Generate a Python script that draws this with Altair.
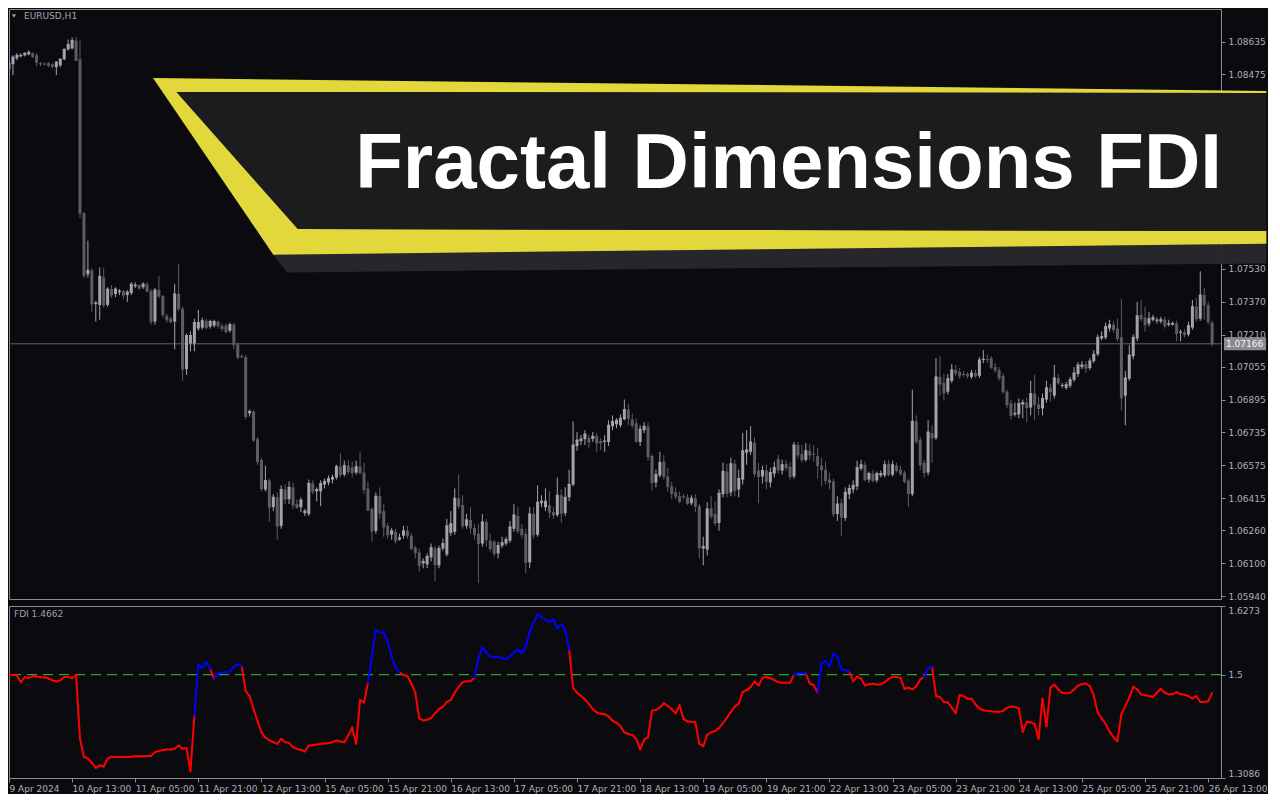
import altair as alt
import pandas as pd

# ---------------- DATA (EURUSD H1, prices in points = 1e-5) ----------------
open_pts = [
    108501, 108525, 108554, 108563, 108568, 108573, 108578, 108568, 108530, 108527,
    108530, 108525, 108511, 108520, 108549, 108597, 108602, 108640, 108549, 107801,
    107504, 107523, 107360, 107355, 107489, 107355, 107432, 107408, 107417, 107422,
    107403, 107413, 107446, 107451, 107441, 107456, 107422, 107274, 107427, 107398,
    107302, 107288, 107274, 107408, 107336, 107043, 107168, 107168, 107240, 107245,
    107278, 107250, 107254, 107274, 107254, 107254, 107230, 107259, 107163, 107106,
    107101, 106828, 106837, 106703, 106602, 106458, 106502, 106372, 106420, 106281,
    106458, 106411, 106468, 106387, 106372, 106343, 106339, 106487, 106449, 106449,
    106482, 106492, 106506, 106516, 106569, 106530, 106574, 106564, 106540, 106569,
    106540, 106463, 106363, 106257, 106425, 106353, 106281, 106238, 106252, 106214,
    106233, 106257, 106233, 106175, 106152, 106099, 106094, 106128, 106171, 106089,
    106171, 106142, 106247, 106252, 106415, 106382, 106281, 106310, 106271, 106243,
    106195, 106300, 106209, 106204, 106147, 106185, 106195, 106209, 106267, 106329,
    106267, 106243, 106104, 106339, 106238, 106391, 106372, 106382, 106348, 106334,
    106430, 106343, 106420, 106482, 106669, 106693, 106703, 106708, 106703, 106717,
    106693, 106689, 106689, 106765, 106775, 106770, 106799, 106847, 106799, 106780,
    106689, 106746, 106765, 106621, 106492, 106526, 106593, 106521, 106473, 106444,
    106425, 106425, 106420, 106391, 106415, 106377, 106171, 106166, 106367, 106339,
    106295, 106435, 106545, 106444, 106583, 106458, 106506, 106636, 106641, 106684,
    106550, 106521, 106550, 106492, 106535, 106607, 106550, 106583, 106569, 106521,
    106674, 106631, 106602, 106646, 106631, 106621, 106574, 106554, 106506, 106497,
    106339, 106391, 106319, 106435, 106458, 106473, 106559, 106578, 106506, 106535,
    106502, 106526, 106526, 106583, 106530, 106574, 106554, 106540, 106502, 106435,
    106789, 106698, 106588, 106540, 106732, 106708, 107005, 106976, 106933, 106986,
    107039, 107029, 107019, 107019, 107005, 107024, 107010, 107087, 107091, 107096,
    107053, 107039, 107010, 106933, 106876, 106823, 106823, 106871, 106880, 106856,
    106924, 106871, 106852, 106895, 106952, 106914, 107000, 106962, 106952, 106962,
    106991, 107019, 107053, 107067, 107048, 107082, 107115, 107192, 107197, 107240,
    107259, 107240, 107197, 106914, 106996, 107106, 107192, 107307, 107293, 107264,
    107283, 107278, 107274, 107283, 107259, 107259, 107264, 107221, 107221, 107211,
    107245, 107346, 107288, 107403, 107355, 107269,
]
high_pts = [
    108535, 108568, 108578, 108578, 108583, 108592, 108583, 108578, 108535, 108535,
    108535, 108530, 108540, 108554, 108602, 108645, 108655, 108659, 108640, 107806,
    107667, 107532, 107374, 107537, 107537, 107441, 107451, 107441, 107432, 107427,
    107427, 107465, 107465, 107456, 107465, 107465, 107432, 107437, 107494, 107403,
    107312, 107298, 107456, 107556, 107346, 107216, 107226, 107288, 107331, 107293,
    107288, 107283, 107283, 107278, 107264, 107264, 107269, 107269, 107173, 107115,
    107111, 106847, 106842, 106713, 106612, 106574, 106511, 106435, 106444, 106478,
    106482, 106497, 106492, 106411, 106420, 106363, 106506, 106502, 106468, 106502,
    106511, 106526, 106530, 106578, 106636, 106598, 106602, 106593, 106598, 106641,
    106588, 106497, 106372, 106444, 106468, 106387, 106295, 106271, 106267, 106243,
    106281, 106281, 106247, 106185, 106171, 106123, 106147, 106195, 106185, 106185,
    106219, 106315, 106353, 106463, 106530, 106430, 106339, 106372, 106291, 106291,
    106339, 106315, 106243, 106214, 106204, 106228, 106228, 106305, 106387, 106372,
    106291, 106267, 106372, 106372, 106478, 106430, 106463, 106449, 106372, 106516,
    106458, 106468, 106554, 106789, 106737, 106722, 106746, 106722, 106737, 106732,
    106708, 106722, 106794, 106818, 106804, 106823, 106895, 106876, 106828, 106804,
    106770, 106785, 106785, 106631, 106554, 106641, 106626, 106564, 106497, 106468,
    106449, 106435, 106435, 106430, 106435, 106387, 106228, 106396, 106425, 106401,
    106458, 106588, 106583, 106612, 106602, 106554, 106732, 106746, 106765, 106713,
    106588, 106574, 106578, 106564, 106593, 106626, 106602, 106602, 106593, 106689,
    106689, 106674, 106684, 106679, 106674, 106660, 106612, 106593, 106540, 106511,
    106425, 106411, 106468, 106482, 106502, 106598, 106602, 106593, 106545, 106554,
    106545, 106550, 106598, 106602, 106598, 106588, 106574, 106550, 106511, 106943,
    106818, 106713, 106602, 106794, 106770, 107096, 107106, 107019, 107019, 107067,
    107063, 107048, 107034, 107029, 107039, 107039, 107101, 107135, 107115, 107106,
    107072, 107053, 107024, 106943, 106895, 106880, 106900, 106895, 106904, 106986,
    107015, 106909, 106924, 106986, 106971, 107063, 107019, 106976, 106981, 107005,
    107053, 107077, 107082, 107082, 107096, 107135, 107211, 107226, 107269, 107283,
    107274, 107288, 107384, 107034, 107159, 107211, 107370, 107379, 107346, 107321,
    107307, 107293, 107298, 107298, 107283, 107274, 107278, 107235, 107235, 107274,
    107379, 107389, 107518, 107437, 107370, 107278,
]
low_pts = [
    108487, 108472, 108544, 108559, 108563, 108568, 108554, 108515, 108515, 108520,
    108511, 108506, 108472, 108511, 108544, 108592, 108597, 108540, 107777, 107485,
    107489, 107321, 107274, 107283, 107341, 107346, 107389, 107393, 107403, 107384,
    107370, 107403, 107437, 107427, 107432, 107417, 107259, 107259, 107389, 107293,
    107269, 107264, 107139, 107326, 106986, 107015, 107130, 107130, 107230, 107235,
    107235, 107240, 107245, 107240, 107226, 107216, 107221, 107139, 107091, 107096,
    106799, 106813, 106689, 106578, 106449, 106449, 106300, 106353, 106214, 106267,
    106387, 106387, 106363, 106363, 106348, 106329, 106329, 106435, 106401, 106377,
    106463, 106478, 106487, 106506, 106516, 106521, 106530, 106516, 106530, 106530,
    106435, 106353, 106204, 106243, 106315, 106228, 106219, 106214, 106195, 106209,
    106219, 106219, 106161, 106123, 106060, 106075, 106075, 106108, 106012, 106075,
    106161, 106132, 106233, 106238, 106363, 106267, 106267, 106243, 106214, 106003,
    106180, 106180, 106156, 106132, 106123, 106175, 106185, 106199, 106252, 106243,
    106219, 106051, 106075, 106219, 106228, 106372, 106353, 106319, 106315, 106324,
    106295, 106329, 106401, 106473, 106646, 106674, 106674, 106660, 106689, 106641,
    106650, 106641, 106669, 106746, 106756, 106760, 106794, 106770, 106756, 106684,
    106669, 106732, 106598, 106454, 106468, 106516, 106506, 106449, 106411, 106411,
    106391, 106411, 106382, 106382, 106348, 106123, 106089, 106137, 106315, 106281,
    106257, 106420, 106420, 106425, 106425, 106420, 106482, 106578, 106626, 106516,
    106391, 106487, 106458, 106468, 106516, 106535, 106530, 106550, 106506, 106511,
    106607, 106588, 106593, 106602, 106593, 106511, 106473, 106482, 106458, 106324,
    106305, 106233, 106305, 106411, 106439, 106454, 106550, 106497, 106492, 106492,
    106492, 106516, 106516, 106521, 106521, 106540, 106526, 106487, 106372, 106425,
    106679, 106554, 106516, 106526, 106588, 106698, 106914, 106890, 106919, 106976,
    107010, 106996, 107005, 106996, 106996, 107000, 107000, 107072, 107072, 107043,
    107024, 106986, 106924, 106852, 106799, 106813, 106804, 106804, 106785, 106818,
    106794, 106818, 106818, 106880, 106885, 106900, 106967, 106952, 106943, 106952,
    106981, 107005, 107043, 107024, 107039, 107072, 107106, 107183, 107187, 107226,
    107221, 107178, 106842, 106770, 106986, 107091, 107178, 107274, 107226, 107250,
    107274, 107264, 107264, 107240, 107250, 107254, 107178, 107178, 107197, 107202,
    107235, 107274, 107278, 107283, 107259, 107154,
]
close_pts = [
    108530, 108559, 108568, 108568, 108578, 108583, 108563, 108535, 108527, 108525,
    108520, 108515, 108535, 108549, 108597, 108621, 108640, 108544, 107801, 107499,
    107523, 107360, 107365, 107494, 107355, 107432, 107403, 107432, 107422, 107403,
    107417, 107456, 107451, 107437, 107456, 107422, 107274, 107427, 107398, 107307,
    107283, 107274, 107408, 107336, 107043, 107206, 107206, 107269, 107269, 107278,
    107245, 107274, 107274, 107254, 107240, 107226, 107259, 107163, 107101, 107103,
    106813, 106837, 106698, 106593, 106463, 106502, 106372, 106420, 106281, 106458,
    106411, 106468, 106382, 106372, 106406, 106353, 106487, 106449, 106458, 106487,
    106497, 106511, 106516, 106569, 106530, 106574, 106545, 106540, 106569, 106540,
    106458, 106358, 106257, 106425, 106343, 106276, 106238, 106257, 106209, 106223,
    106257, 106233, 106171, 106152, 106089, 106108, 106132, 106175, 106094, 106171,
    106195, 106281, 106291, 106415, 106377, 106281, 106310, 106271, 106238, 106195,
    106300, 106214, 106171, 106147, 106185, 106199, 106214, 106276, 106334, 106257,
    106238, 106104, 106339, 106238, 106396, 106401, 106401, 106348, 106334, 106430,
    106343, 106420, 106482, 106674, 106698, 106703, 106727, 106689, 106717, 106684,
    106684, 106693, 106770, 106789, 106794, 106804, 106847, 106804, 106770, 106693,
    106751, 106765, 106617, 106492, 106530, 106588, 106521, 106473, 106439, 106425,
    106401, 106423, 106391, 106415, 106377, 106175, 106180, 106363, 106329, 106295,
    106439, 106545, 106439, 106583, 106454, 106511, 106646, 106650, 106689, 106535,
    106521, 106550, 106497, 106540, 106564, 106554, 106578, 106564, 106521, 106674,
    106626, 106602, 106646, 106626, 106629, 106574, 106554, 106502, 106492, 106339,
    106387, 106324, 106444, 106463, 106478, 106564, 106578, 106506, 106535, 106502,
    106535, 106535, 106578, 106530, 106578, 106550, 106535, 106497, 106439, 106789,
    106693, 106578, 106540, 106737, 106708, 107005, 106971, 106928, 106996, 107039,
    107024, 107010, 107017, 107010, 107024, 107010, 107087, 107091, 107089, 107053,
    107039, 107000, 106933, 106871, 106818, 106828, 106876, 106880, 106856, 106924,
    106871, 106852, 106900, 106952, 106933, 107000, 106976, 106964, 106967, 106991,
    107024, 107063, 107063, 107048, 107082, 107115, 107197, 107202, 107250, 107259,
    107235, 107192, 106904, 107000, 107111, 107197, 107302, 107288, 107259, 107288,
    107293, 107281, 107283, 107254, 107264, 107264, 107216, 107223, 107211, 107254,
    107346, 107288, 107403, 107355, 107274, 107166,
]

# Fractal Dimension Index, one value per bar
fdi_values = [
    1.4990, 1.4996, 1.4984, 1.4862, 1.4953, 1.4941, 1.4972, 1.4965, 1.4953, 1.4947,
    1.4929, 1.4898, 1.4874, 1.4898, 1.4959, 1.4959, 1.4935, 1.4999, 1.3811, 1.3481,
    1.3444, 1.3371, 1.3273, 1.3322, 1.3297, 1.3444, 1.3481, 1.3475, 1.3475, 1.3475,
    1.3475, 1.3481, 1.3487, 1.3487, 1.3487, 1.3493, 1.3493, 1.3566, 1.3585, 1.3603,
    1.3615, 1.3615, 1.3627, 1.3688, 1.3627, 1.3640, 1.3212, 1.4238, 1.5185, 1.5124,
    1.5234, 1.5106, 1.4923, 1.5027, 1.5039, 1.5045, 1.5057, 1.5155, 1.5198, 1.5155,
    1.4697, 1.4605, 1.4361, 1.4147, 1.3933, 1.3835, 1.3786, 1.3750, 1.3719, 1.3811,
    1.3750, 1.3737, 1.3658, 1.3621, 1.3609, 1.3579, 1.3688, 1.3695, 1.3707, 1.3719,
    1.3725, 1.3731, 1.3750, 1.3780, 1.3762, 1.3750, 1.3872, 1.4025, 1.3719, 1.4532,
    1.4483, 1.4849, 1.5338, 1.5827, 1.5778, 1.5778, 1.5613, 1.5338, 1.5124, 1.5045,
    1.4996, 1.4972, 1.4837, 1.4666, 1.4190, 1.4153, 1.4165, 1.4196, 1.4287, 1.4361,
    1.4409, 1.4495, 1.4532, 1.4666, 1.4776, 1.4862, 1.4880, 1.4880, 1.4941, 1.5308,
    1.5509, 1.5412, 1.5338, 1.5326, 1.5326, 1.5308, 1.5289, 1.5338, 1.5412, 1.5460,
    1.5399, 1.5509, 1.5796, 1.5961, 1.6120, 1.6071, 1.6010, 1.5980, 1.6023, 1.5858,
    1.5937, 1.5839, 1.5460, 1.4758, 1.4666, 1.4605, 1.4544, 1.4458, 1.4361, 1.4299,
    1.4275, 1.4269, 1.4226, 1.4147, 1.4110, 1.4043, 1.3933, 1.3902, 1.3884, 1.3811,
    1.3615, 1.3798, 1.3841, 1.4330, 1.4348, 1.4391, 1.4471, 1.4422, 1.4361, 1.4287,
    1.4434, 1.4177, 1.4135, 1.4128, 1.4116, 1.3719, 1.3676, 1.3884, 1.3933, 1.3957,
    1.4012, 1.4104, 1.4202, 1.4312, 1.4409, 1.4464, 1.4678, 1.4715, 1.4770, 1.4874,
    1.4801, 1.4941, 1.4959, 1.4935, 1.4898, 1.4862, 1.4849, 1.4849, 1.4849, 1.4996,
    1.5027, 1.5033, 1.5020, 1.4837, 1.4807, 1.4666, 1.5217, 1.5253, 1.5155, 1.5387,
    1.5338, 1.5100, 1.5082, 1.5057, 1.4880, 1.4959, 1.4929, 1.4801, 1.4825, 1.4831,
    1.4819, 1.4819, 1.4862, 1.4923, 1.4959, 1.4959, 1.4941, 1.4739, 1.4758, 1.4727,
    1.4788, 1.4911, 1.4953, 1.5124, 1.5143, 1.4605, 1.4581, 1.4495, 1.4483, 1.4391,
    1.4287, 1.4623, 1.4605, 1.4556, 1.4556, 1.4452, 1.4373, 1.4342, 1.4330, 1.4324,
    1.4312, 1.4312, 1.4330, 1.4385, 1.4409, 1.4403, 1.4373, 1.3945, 1.4128, 1.4116,
    1.4086, 1.3811, 1.4556, 1.4043, 1.4758, 1.4819, 1.4727, 1.4666, 1.4654, 1.4666,
    1.4727, 1.4801, 1.4825, 1.4837, 1.4788, 1.4617, 1.4299, 1.4190, 1.4086, 1.3945,
    1.3841, 1.3768, 1.4269, 1.4422, 1.4574, 1.4776, 1.4727, 1.4636, 1.4617, 1.4605,
    1.4587, 1.4666, 1.4739, 1.4666, 1.4636, 1.4636, 1.4678, 1.4642, 1.4629, 1.4605,
    1.4562, 1.4605, 1.4495, 1.4495, 1.4507, 1.4662,
]

time_tick_labels = [
    "9 Apr 2024", "10 Apr 13:00", "11 Apr 05:00", "11 Apr 21:00", "12 Apr 13:00",
    "15 Apr 05:00", "15 Apr 21:00", "16 Apr 13:00", "17 Apr 05:00", "17 Apr 21:00",
    "18 Apr 13:00", "19 Apr 05:00", "19 Apr 21:00", "22 Apr 13:00", "23 Apr 05:00",
    "23 Apr 21:00", "24 Apr 13:00", "25 Apr 05:00", "25 Apr 21:00", "26 Apr 13:00",
]
BARS_PER_TIME_LABEL = 16

price_ticks = [1.08635, 1.08475, 1.08315, 1.08155, 1.07995, 1.07840, 1.07685,
               1.07530, 1.07370, 1.07210, 1.07055, 1.06895, 1.06735, 1.06575,
               1.06415, 1.06260, 1.06100, 1.05940]
fdi_ticks = [1.3086, 1.5, 1.6273]
last_price = 1.07166
fdi_level = 1.5
symbol_label = "EURUSD,H1"
banner_title = "Fractal Dimensions FDI"

# ---------------- LAYOUT / STYLE ----------------
W = 1212
H_PRICE = 590
H_FDI = 172
X_DOMAIN = [0, 307.25]
PRICE_DOMAIN = [1.059256, 1.087933]
FDI_DOMAIN = [1.3086, 1.6273]

BG = "#0b0b0f"
FRAME = "#8c8c94"
AXIS_TXT = "#b0b0b8"
BULL = "#a3a3ae"
BEAR = "#5c5c64"
PRICE_LINE = "#5e5e68"
BOX_FILL = "#8a8a92"
BOX_TXT = "#f2f2f2"
YELLOW = "#e9df3e"
PANEL = "#1c1c1f"
SHADOW = "#27272c"
GREEN = "#33cc33"
UP_COLOR = "#0000ff"
DOWN_COLOR = "#ff0000"
FONT = "DejaVu Sans"

n = len(close_pts)
candles = pd.DataFrame({
    "bar": list(range(n)),
    "open": [v / 1e5 for v in open_pts],
    "high": [v / 1e5 for v in high_pts],
    "low": [v / 1e5 for v in low_pts],
    "close": [v / 1e5 for v in close_pts],
})
candles["dir"] = ["bull" if c > o else "bear" for o, c in zip(candles["open"], candles["close"])]

segs = pd.DataFrame({
    "bar": list(range(n - 1)),
    "bar_next": list(range(1, n)),
    "fdi": fdi_values[:-1],
    "fdi_next": fdi_values[1:],
})
segs["state"] = ["up" if v > fdi_level else "down" for v in segs["fdi_next"]]

x_scale = alt.Scale(domain=X_DOMAIN, nice=False, zero=False)
price_scale = alt.Scale(domain=PRICE_DOMAIN, nice=False, zero=False)
fdi_scale = alt.Scale(domain=FDI_DOMAIN, nice=False, zero=False)

price_axis = alt.Axis(orient="right", values=price_ticks, format=".5f", labelFont=FONT,
                      labelFontSize=9, labelColor=AXIS_TXT, tickColor=FRAME, tickSize=4,
                      labelPadding=3, domain=False, grid=False, title=None,
                      labelOverlap=False, labelFlush=False, labelBound=False)
dir_color = alt.Color("dir:N", scale=alt.Scale(domain=["bull", "bear"], range=[BULL, BEAR]),
                      legend=None)

def px(field):
    return alt.X(f"{field}:Q", scale=x_scale, axis=None)

def py(field):
    return alt.Y(f"{field}:Q", scale=price_scale, axis=price_axis)

one = pd.DataFrame({"k": [0]})
last_df = pd.DataFrame({"price": [last_price], "label": [f"{last_price:.5f}"]})

price_line = alt.Chart(last_df).mark_rule(color=PRICE_LINE, strokeWidth=1).encode(y=py("price"))
wicks = alt.Chart(candles).mark_rule(strokeWidth=1, clip=True, opacity=1).encode(
    x=px("bar"), y=py("low"), y2="high:Q", color=dir_color)
bodies = alt.Chart(candles).mark_rule(strokeWidth=3, clip=True, opacity=1).encode(
    x=px("bar"), y=py("open"), y2="close:Q", color=dir_color)
caps = alt.Chart(candles).mark_tick(orient="horizontal", size=3, thickness=1, clip=True,
                                    opacity=1).encode(x=px("bar"), y=py("close"), color=dir_color)
price_box = alt.Chart(last_df).mark_point(shape="M-21,-6.5H21V6.5H-21Z", size=4, filled=True,
                                          color=BOX_FILL, opacity=1, strokeWidth=0).encode(
    x=alt.value(W + 24), y=py("price"))
price_box_text = alt.Chart(last_df).mark_text(align="left", baseline="middle", font=FONT,
                                              fontSize=9, color=BOX_TXT).encode(
    x=alt.value(W + 5), y=py("price"), text="label:N")

# ---- decorative title banner (outline read in reference pixels) ----
SX = W / 1229.0
SY = H_PRICE / 598.0

def outline(pts):
    return "M" + "L".join(f"{(x - 3) * SX:.1f},{(y - 3) * SY:.1f}" for x, y in pts) + "Z"

yellow_outer = [(149, 73), (1278, 86), (1278, 241), (271, 252)]
panel_pts = [(173, 87), (1278, 88), (1278, 228), (296, 226)]
shadow_pts = [(271, 252), (1278, 241), (1278, 261), (285, 270)]

def poly(path, color, opacity):
    return alt.Chart(one).mark_point(shape=path, size=4, filled=True, color=color,
                                     opacity=opacity, strokeWidth=0).encode(
        x=alt.value(0), y=alt.value(0))

shadow = poly(outline(shadow_pts), SHADOW, 0.97)
yellow = poly(outline(yellow_outer) + outline(list(reversed(panel_pts))), YELLOW, 0.97)
panel = poly(outline(panel_pts), PANEL, 1)
title_text = alt.Chart(one).mark_text(text=banner_title, font="Liberation Sans",
                                      fontWeight="bold", fontSize=78, color="#ffffff",
                                      align="left", baseline="alphabetic").encode(
    x=alt.value((354 - 3) * SX), y=alt.value((184 - 3) * SY))

sym_text = alt.Chart(one).mark_text(text=symbol_label, font=FONT, fontSize=9,
                                    color="#a4a4ac", align="left", baseline="middle").encode(
    x=alt.value(15), y=alt.value(7))
sym_tri = alt.Chart(one).mark_point(shape="triangle-down", size=16, filled=True,
                                    color="#a4a4ac", opacity=1, strokeWidth=0).encode(
    x=alt.value(5), y=alt.value(7))

price_chart = alt.layer(
    price_line, wicks, bodies, caps, price_box, price_box_text,
    shadow, yellow, panel, title_text, sym_text, sym_tri,
).properties(width=W, height=H_PRICE)

# ---------------- FDI panel ----------------
label_js = "[" + ",".join(f"'{s}'" for s in time_tick_labels) + "]"
x_axis = alt.Axis(values=[BARS_PER_TIME_LABEL * k for k in range(len(time_tick_labels))],
                  labelExpr=f"{label_js}[round(datum.value / {BARS_PER_TIME_LABEL})]",
                  labelAlign="left", labelBaseline="top", labelPadding=2, tickSize=4,
                  labelFont=FONT, labelFontSize=9, labelColor=AXIS_TXT, tickColor=FRAME,
                  domain=False, grid=False, title=None, labelOverlap=False,
                  labelFlush=False, labelBound=False)
fdi_axis = alt.Axis(orient="right", values=fdi_ticks, format=".4~f", labelFont=FONT,
                    labelFontSize=9, labelColor=AXIS_TXT, tickColor=FRAME, tickSize=4,
                    labelPadding=3, domain=False, grid=False, title=None,
                    labelOverlap=False, labelFlush=True, labelBound=False)

level = alt.Chart(pd.DataFrame({"level": [fdi_level]})).mark_rule(
    color=GREEN, strokeDash=[10, 6], strokeWidth=1).encode(
    y=alt.Y("level:Q", scale=fdi_scale, axis=fdi_axis))

def fdi_segments(state, color):
    return alt.Chart(segs).transform_filter(alt.datum.state == state).mark_rule(
        strokeWidth=2, strokeCap="round", clip=True, opacity=1, color=color).encode(
        x=alt.X("bar:Q", scale=x_scale, axis=x_axis),
        x2="bar_next:Q",
        y=alt.Y("fdi:Q", scale=fdi_scale, axis=fdi_axis),
        y2="fdi_next:Q",
    )

fdi_down = fdi_segments("down", DOWN_COLOR)
fdi_up = fdi_segments("up", UP_COLOR)
fdi_label = alt.Chart(pd.DataFrame({"t": [f"FDI {fdi_values[-1]:.4f}"]})).mark_text(
    font=FONT, fontSize=9, color="#a0a0a8", align="left", baseline="middle").encode(
    x=alt.value(5), y=alt.value(8), text="t:N")

fdi_chart = alt.layer(level, fdi_down, fdi_up, fdi_label).properties(width=W, height=H_FDI)

chart = alt.vconcat(price_chart, fdi_chart, spacing=3).properties(
    background=BG, padding=0
).configure_view(stroke=FRAME, strokeWidth=1)

chart.save("out.html", embed_options={"renderer": "svg", "actions": False})
